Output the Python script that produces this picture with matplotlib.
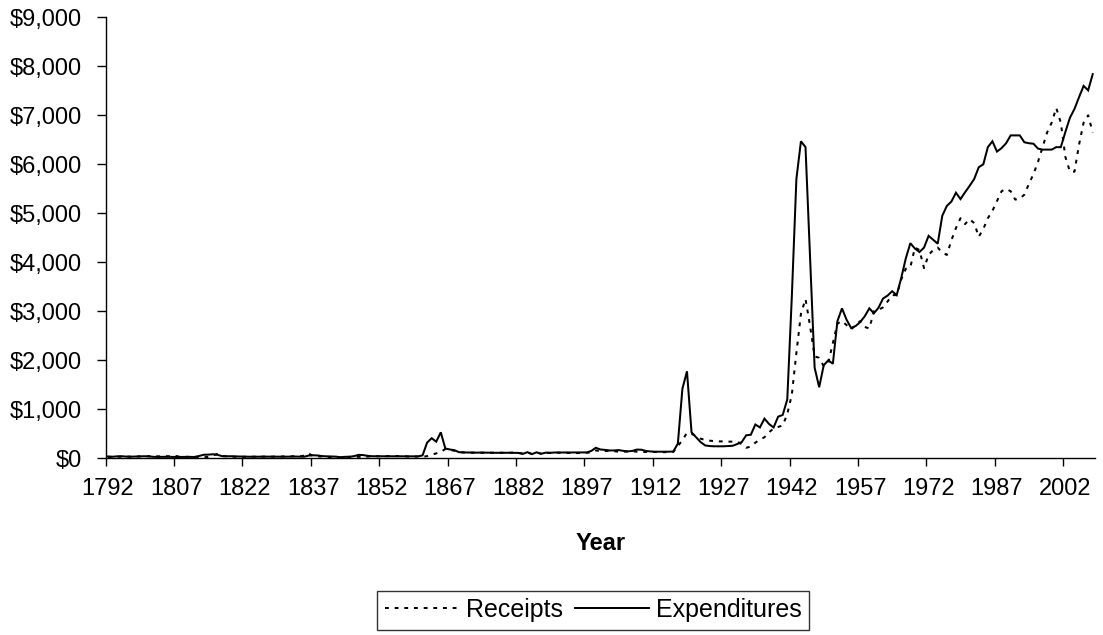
import matplotlib
matplotlib.use("Agg")
import matplotlib.pyplot as plt
from matplotlib.ticker import FixedLocator, FuncFormatter

plt.rcParams['font.family'] = ['Liberation Sans', 'DejaVu Sans']

# ---------------- data ----------------
years = list(range(1792, 2009))

expenditures = [
    # 1792-1811
    38, 32, 40, 42, 35, 33, 36, 40, 42, 38, 30, 28, 30, 31, 29, 27, 28, 31, 29, 27,
    # 1812-1816
    48, 72, 75, 82, 72,
    # 1817-1835
    45, 42, 42, 38, 36, 33, 32, 33, 33, 34, 34, 33, 33, 33, 33, 34, 36, 34, 32,
    # 1836-1845
    55, 62, 58, 45, 40, 38, 34, 22, 30, 30,
    # 1846-1849
    45, 70, 65, 50,
    # 1850-1860
    42, 42, 40, 40, 42, 42, 44, 44, 44, 40, 38,
    # 1861-1865
    60, 320, 410, 340, 530,
    # 1866-1881
    200, 180, 165, 125, 120, 118, 115, 115, 118, 115, 115, 112, 113, 115, 113, 112,
    # 1882-1897
    110, 90, 125, 85, 122, 92, 115, 112, 118, 118, 120, 120, 118, 118, 118, 120,
    # 1898-1916
    150, 215, 180, 172, 160, 160, 168, 152, 142, 150, 178, 175, 150, 140, 135, 135, 135, 135, 138,
    # 1917-1941
    300, 1420, 1775, 530, 430, 330, 262, 250, 245, 245, 245, 250, 255, 290, 330, 470, 480, 690,
    630, 810, 700, 630, 850, 885, 1200,
    # 1942-1951
    3300, 5700, 6470, 6350, 4100, 1850, 1450, 1900, 2000, 1930,
    # 1952-1971
    2800, 3060, 2830, 2660, 2700, 2780, 2900, 3060, 2960, 3070, 3260, 3320, 3410, 3330, 3680,
    4080, 4390, 4280, 4210, 4300,
    # 1972-1991
    4540, 4460, 4380, 4950, 5150, 5240, 5420, 5290, 5430, 5560, 5700, 5940, 6000, 6350, 6470,
    6260, 6330, 6430, 6590, 6590,
    # 1992-2008
    6590, 6450, 6430, 6420, 6320, 6300, 6300, 6300, 6350, 6350, 6660, 6950, 7130, 7370, 7600,
    7510, 7840,
]

receipts = [
    # 1792-1811
    25, 28, 30, 32, 35, 33, 35, 36, 38, 42, 45, 40, 40, 42, 44, 46, 25, 28, 32, 30,
    # 1812-1816
    25, 22, 28, 60, 88,
    # 1817-1835
    45, 40, 35, 30, 30, 32, 30, 32, 33, 35, 35, 33, 35, 35, 38, 40, 42, 38, 55,
    # 1836-1845
    100, 45, 35, 40, 30, 25, 25, 18, 28, 30,
    # 1846-1849
    32, 30, 35, 35,
    # 1850-1860
    40, 42, 40, 42, 48, 45, 45, 42, 35, 36, 38,
    # 1861-1865
    28, 45, 75, 100, 130,
    # 1866-1881
    190, 170, 155, 125, 120, 115, 115, 112, 113, 112, 112, 110, 110, 112, 113, 115,
    # 1882-1897
    112, 95, 118, 88, 118, 95, 112, 110, 115, 115, 113, 110, 105, 108, 110, 112,
    # 1898-1916
    120, 160, 150, 150, 148, 145, 135, 135, 138, 145, 135, 130, 130, 128, 128, 128, 125, 125, 130,
    # 1917-1941
    250, 370, 520, 500, 450, 400, 375, 360, 350, 345, 345, 340, 340, 340, 290, 215, 240, 320,
    380, 430, 530, 610, 640, 670, 900,
    # 1942-1951
    1300, 2150, 2950, 3250, 2700, 2080, 2050, 1880, 1950, 2350,
    # 1952-1971
    2750, 2800, 2720, 2630, 2720, 2800, 2680, 2650, 3000, 3030, 3080, 3200, 3330, 3330, 3650,
    3870, 3900, 4300, 4250, 3880,
    # 1972-1991
    4150, 4250, 4300, 4200, 4150, 4450, 4700, 4900, 4780, 4880, 4800, 4520, 4680, 4900, 5050,
    5250, 5450, 5500, 5450, 5280,
    # 1992-2008
    5300, 5380, 5600, 5800, 6050, 6350, 6650, 6850, 7150, 6850, 6150, 5850, 5850, 6400, 6850,
    7000, 6650,
]

tick_step = 15
y_ticks = [0, 1000, 2000, 3000, 4000, 5000, 6000, 7000, 8000, 9000]

# ---------------- figure ----------------
W, H = 1103, 635
fig = plt.figure(figsize=(W / 100, H / 100), dpi=100)
left, right, top, bottom = 105.7, 1095.0, 17.3, 458.3
ax = fig.add_axes([left / W, 1 - bottom / H, (right - left) / W, (bottom - top) / H])

n = len(years)
xpos = [i + 0.5 for i in range(n)]
ax.plot(xpos, expenditures, color='black', lw=1.45, solid_joinstyle='miter',
        label='Expenditures', zorder=3)
ax.plot(xpos, receipts, color='black', lw=1.45, linestyle=(0, (1.9, 2.9)),
        label='Receipts', zorder=4)

ax.set_xlim(0, n)
ax.set_ylim(0, 9000)

# category axis: tick marks at every 15th category boundary,
# labels centred on the labelled category
starts = list(range(0, n, tick_step))
ax.xaxis.set_major_locator(FixedLocator(starts))
centres = [s + 0.5 for s in starts]
ax.xaxis.set_minor_locator(FixedLocator(centres))
ax.set_xticklabels([], minor=False)
ax.set_xticklabels([str(years[s]) for s in starts], minor=True)
ax.tick_params(axis='x', which='major', length=6, width=1, direction='out', color='black')
ax.tick_params(axis='x', which='minor', length=0, pad=14.4, labelsize=17)

ax.yaxis.set_major_locator(FixedLocator(y_ticks))
ax.yaxis.set_major_formatter(FuncFormatter(lambda v, p: "${:,.0f}".format(v)))
ax.tick_params(axis='y', length=6.5, width=1, direction='out', pad=10.8, labelsize=17)

for s in ['top', 'right']:
    ax.spines[s].set_visible(False)
for s in ['left', 'bottom']:
    ax.spines[s].set_linewidth(1.0)
    ax.spines[s].set_color('black')

ax.set_xlabel('Year', fontsize=17, fontweight='bold', labelpad=23)

handles, labels = ax.get_legend_handles_labels()
order = [1, 0]
leg = fig.legend([handles[i] for i in order], [labels[i] for i in order],
                 loc='center', bbox_to_anchor=(593.3 / W, 1 - 610 / H), ncol=2,
                 frameon=True, fancybox=False, edgecolor='black', fontsize=18,
                 handlelength=2.96, columnspacing=0.5, handletextpad=0.28,
                 borderpad=0.3, borderaxespad=0)
leg.get_frame().set_linewidth(1.0)

fig.savefig('out.png', dpi=100)
